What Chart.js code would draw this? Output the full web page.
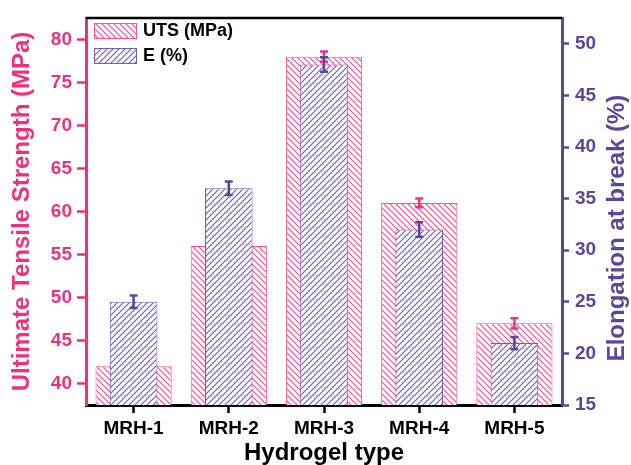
<!DOCTYPE html>
<html>
<head>
<meta charset="utf-8">
<script src="https://cdn.jsdelivr.net/npm/chart.js@4"></script>
<style>
  html, body { margin: 0; padding: 0; background: #fff; }
  #wrap { width: 631px; height: 465px; }
</style>
</head>
<body>
<div id="wrap"><canvas id="chart" width="631" height="465"></canvas></div>
<script>
const categories = ["MRH-1", "MRH-2", "MRH-3", "MRH-4", "MRH-5"];
const utsValues = [42, 56, 78, 61, 47];
const utsErrors = [0.5, 0.5, 0.6, 0.5, 0.6];
const elongValues = [25, 36, 48, 32, 21];
const elongErrors = [0.6, 0.65, 0.7, 0.7, 0.6];
const leftTicks = [40, 45, 50, 55, 60, 65, 70, 75, 80];
const rightTicks = [15, 20, 25, 30, 35, 40, 45, 50];

const PINK = "#f0307e";
const PINK_HATCH = "#ff4f8f";
const PURPLE = "#5a479a";
const PURPLE_HATCH = "#6e5cc0";
const FONT = "'Liberation Sans', Arial, sans-serif";

// diagonal hatch on a white ground
function hatch(color, backslash) {
  const s = 6;
  const c = document.createElement("canvas");
  c.width = s; c.height = s;
  const x = c.getContext("2d");
  x.fillStyle = "#fff";
  x.fillRect(0, 0, s, s);
  x.strokeStyle = color;
  x.lineWidth = 1.2;
  x.beginPath();
  if (backslash) {
    x.moveTo(-1, -1); x.lineTo(s + 1, s + 1);
    x.moveTo(-1, s - 1); x.lineTo(1, s + 1);
    x.moveTo(s - 1, -1); x.lineTo(s + 1, 1);
  } else {
    x.moveTo(-1, s + 1); x.lineTo(s + 1, -1);
    x.moveTo(-1, 1); x.lineTo(1, -1);
    x.moveTo(s - 1, s + 1); x.lineTo(s + 1, s - 1);
  }
  x.stroke();
  return x.createPattern(c, "repeat");
}

const ctx = document.getElementById("chart").getContext("2d");
const pinkPattern = hatch(PINK_HATCH, true);
const purplePattern = hatch(PURPLE_HATCH, false);

const errorBars = {
  id: "errorBars",
  afterDatasetDraw(chart, args) {
    const ds = chart.data.datasets[args.index];
    const scale = chart.scales[ds.yAxisID];
    const c = chart.ctx;
    c.save();
    c.strokeStyle = ds.errColor;
    c.lineWidth = 2.5;
    args.meta.data.forEach((bar, i) => {
      const v = ds.data[i], e = ds.errors[i];
      const yt = scale.getPixelForValue(v + e);
      const yb = scale.getPixelForValue(v - e);
      c.beginPath();
      c.moveTo(bar.x, yt); c.lineTo(bar.x, yb);
      c.moveTo(bar.x - 4, yt); c.lineTo(bar.x + 4, yt);
      c.moveTo(bar.x - 4, yb); c.lineTo(bar.x + 4, yb);
      c.stroke();
    });
    c.restore();
  }
};

const extras = {
  id: "extras",
  afterDraw(chart) {
    const c = chart.ctx;
    const a = chart.chartArea;
    c.save();
    // top frame line
    c.strokeStyle = "#000";
    c.lineWidth = 2.5;
    c.beginPath();
    c.moveTo(a.left, a.top); c.lineTo(a.right, a.top);
    c.stroke();

    // legend
    const items = [
      { label: "UTS (MPa)", fill: pinkPattern, border: PINK_HATCH },
      { label: "E (%)", fill: purplePattern, border: PURPLE_HATCH }
    ];
    c.font = "bold 18px " + FONT;
    c.textBaseline = "middle";
    c.textAlign = "left";
    items.forEach((it, i) => {
      const y = 23 + i * 25;
      c.fillStyle = it.fill;
      c.fillRect(94, y, 43, 16);
      c.strokeStyle = it.border;
      c.lineWidth = 1;
      c.strokeRect(94.5, y + 0.5, 42, 15);
      c.fillStyle = "#000";
      c.fillText(it.label, 143, y + 8.5);
    });

    // right axis title
    c.translate(617, 228);
    c.rotate(-Math.PI / 2);
    c.font = "bold 24px " + FONT;
    c.fillStyle = PURPLE;
    c.textAlign = "center";
    c.textBaseline = "middle";
    c.fillText("Elongation at break (%)", 0, 0);
    c.restore();
  }
};

new Chart(ctx, {
  type: "bar",
  data: {
    labels: categories,
    datasets: [
      {
        label: "UTS (MPa)",
        data: utsValues,
        errors: utsErrors,
        errColor: PINK,
        yAxisID: "y",
        backgroundColor: pinkPattern,
        borderColor: PINK_HATCH,
        borderWidth: 1,
        grouped: false,
        barPercentage: 0.8,
        categoryPercentage: 1,
        order: 1
      },
      {
        label: "E (%)",
        data: elongValues,
        errors: elongErrors,
        errColor: PURPLE,
        yAxisID: "y1",
        backgroundColor: purplePattern,
        borderColor: PURPLE_HATCH,
        borderWidth: 1,
        grouped: false,
        barPercentage: 0.5,
        categoryPercentage: 1,
        order: 0
      }
    ]
  },
  options: {
    responsive: false,
    animation: false,
    layout: { padding: { top: 18, left: 0, right: 0, bottom: 0 } },
    plugins: { legend: { display: false }, tooltip: { enabled: false } },
    scales: {
      x: {
        offset: true,
        grid: { display: true, drawOnChartArea: false, offset: false, color: "#000", tickLength: 8, tickWidth: 2.5 },
        border: { color: "#000", width: 3 },
        ticks: { color: "#000", font: { family: FONT, size: 19, weight: "bold" }, padding: 4 },
        title: { display: true, text: "Hydrogel type", color: "#000", font: { family: FONT, size: 24, weight: "bold", lineHeight: 1 }, padding: 0 },
        afterFit(s) { s.height = 60; }
      },
      y: {
        position: "left",
        min: 37.5,
        max: 82.5,
        afterBuildTicks(s) { s.ticks = leftTicks.map(v => ({ value: v })); },
        ticks: { color: PINK, font: { family: FONT, size: 19, weight: "bold" }, padding: 5 },
        grid: { drawOnChartArea: false, color: PINK, tickLength: 9, tickWidth: 2.5 },
        border: { color: PINK, width: 3 },
        title: { display: true, text: "Ultimate Tensile Strength (MPa)", color: PINK, font: { family: FONT, size: 24, weight: "bold", lineHeight: 1 }, padding: { top: 10, bottom: 0 } },
        afterFit(s) { s.width = 86; }
      },
      y1: {
        position: "right",
        min: 15,
        max: 52.5,
        afterBuildTicks(s) { s.ticks = rightTicks.map(v => ({ value: v })); },
        ticks: { color: PURPLE, font: { family: FONT, size: 19, weight: "bold" }, padding: 6 },
        grid: { drawOnChartArea: false, color: PURPLE, tickLength: 7, tickWidth: 2.5 },
        border: { color: PURPLE, width: 3 },
        title: { display: false },
        afterFit(s) { s.width = 69; }
      }
    }
  },
  plugins: [errorBars, extras]
});
</script>
</body>
</html>
